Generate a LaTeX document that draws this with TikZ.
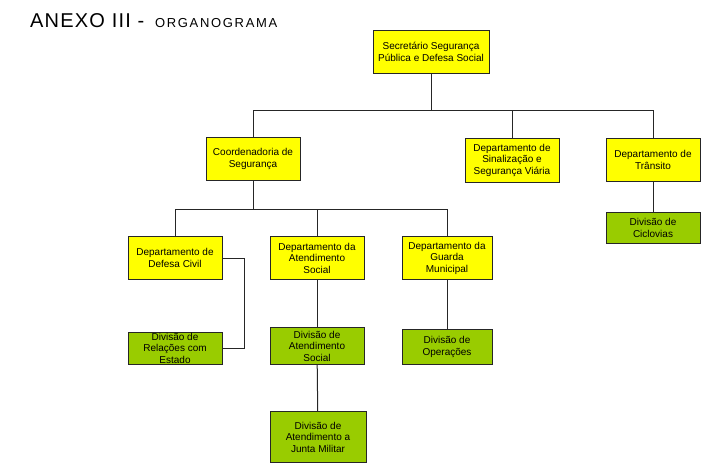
\documentclass[tikz,border=0pt]{standalone}
\usepackage{fontspec}
\setmainfont{Liberation Sans}
\newfontfamily\titlefont[LetterSpace=6]{Liberation Sans}
\newfontfamily\subtitlefont[LetterSpace=13]{Liberation Sans}
\usepackage{xcolor}
\usetikzlibrary{positioning, calc}
\definecolor{deptyellow}{RGB}{255,255,0}
\definecolor{divgreen}{RGB}{153,204,0}
\tikzstyle{dept}    = [rectangle, draw=black!85, line width=0.9pt, fill=deptyellow,
                       align=center, inner sep=1pt, minimum width=94pt,
                       minimum height=43pt, font=\fontsize{10}{11.5}\selectfont]
\tikzstyle{divisao} = [dept, fill=divgreen]
\tikzstyle{link}    = [line width=1pt, black!85]

\begin{document}
\begin{tikzpicture}[x=1pt, y=-1pt]
  \useasboundingbox (0,0) rectangle (718,474);

  % Title
  \node[anchor=base west, inner sep=0pt] (title) at (30,27)
    {\fontsize{20}{20}\titlefont ANEXO III -\hspace{4pt} \fontsize{13}{13}\subtitlefont ORGANOGRAMA};

  % Secretaria
  \node[dept, minimum width=116pt] (sec) at (431,52) {Secretário Segurança\\Pública e Defesa Social};

  % Second level
  \node[dept] (coord) at (253,159) {Coordenadoria de\\Segurança};
  \node[dept, minimum height=44pt] (sinal) at (512,160) {Departamento de\\Sinalização e\\Segurança Viária};
  \node[dept] (transito) at (653,160) {Departamento de\\Trânsito};
  \node[divisao, minimum height=31pt] (ciclo) at (653,228) {Divisão de\\Ciclovias};

  % Third level
  \node[dept] (defesa) at (175,258) {Departamento de\\Defesa Civil};
  \node[dept] (atend) at (317,258) {Departamento da\\Atendimento\\Social};
  \node[dept, minimum width=90pt] (guarda) at (447,258) {Departamento da\\Guarda\\Municipal};

  % Divisions
  \node[divisao, minimum height=32pt, text height=30pt, text depth=0pt] (relacoes) at (175,348)
    {Divisão de\\Relações com\\Estado};
  \node[divisao, minimum height=37pt] (divatend) at (317,346) {Divisão de\\Atendimento\\Social};
  \node[divisao, minimum width=90pt, minimum height=35pt] (operacoes) at (447,347) {Divisão de\\Operações};
  \node[divisao, minimum width=96pt, minimum height=51pt] (junta) at (318,437)
    {Divisão de\\Atendimento a\\Junta Militar};

  % Bus lines
  \coordinate (bus1) at (431,110);
  \coordinate (bus2) at (253,209);

  \draw[link] (sec.south) -- (bus1);
  \draw[link] (bus1) -| (coord.north);
  \draw[link] (bus1) -| (sinal.north);
  \draw[link] (bus1) -| (transito.north);
  \draw[link] (transito) -- (ciclo);

  \draw[link] (coord.south) -- (bus2);
  \draw[link] (bus2) -| (defesa.north);
  \draw[link] (bus2) -| (atend.north);
  \draw[link] (bus2) -| (guarda.north);

  \draw[link] (defesa.east) -- ++(22,0) |- (relacoes.east);
  \draw[link] (atend) -- (divatend);
  \draw[link] (divatend) -- (junta);
  \draw[link] (guarda) -- (operacoes);
\end{tikzpicture}
\end{document}
